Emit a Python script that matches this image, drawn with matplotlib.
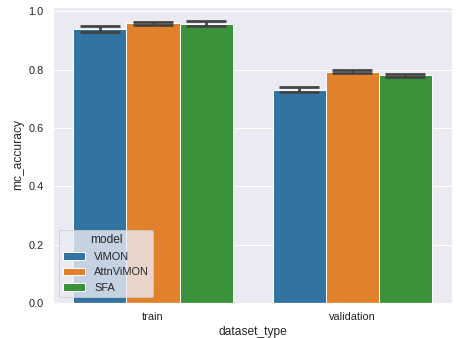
import matplotlib
matplotlib.use("Agg")
import matplotlib.pyplot as plt
import numpy as np
import pandas as pd
import seaborn as sns

# mittlere mc_accuracy je Modell und Datensatz, plus Konfidenzintervall
datasets = ["train", "validation"]
models = ["ViMON", "AttnViMON", "SFA"]
acc_mean = {
    "ViMON": [0.938, 0.729],
    "AttnViMON": [0.958, 0.792],
    "SFA": [0.955, 0.780],
}
acc_low = {
    "ViMON": [0.930, 0.723],
    "AttnViMON": [0.952, 0.788],
    "SFA": [0.948, 0.775],
}
acc_high = {
    "ViMON": [0.949, 0.741],
    "AttnViMON": [0.962, 0.797],
    "SFA": [0.967, 0.785],
}

rows = []
for m in models:
    for d, v in zip(datasets, acc_mean[m]):
        rows.append({"dataset_type": d, "model": m, "mc_accuracy": v})
df = pd.DataFrame(rows)

sns.set_theme(style="darkgrid", palette="tab10")
plt.rcParams["font.family"] = ["Liberation Sans", "DejaVu Sans"]

fig, ax = plt.subplots(figsize=(456 / 72, 338 / 72), dpi=72)
sns.barplot(data=df, x="dataset_type", y="mc_accuracy", hue="model",
            order=datasets, hue_order=models, errorbar=None,
            saturation=0.75, ax=ax)

# Fehlerbalken von Hand, Balken fuer Balken
cap = 0.1
for m, bars in zip(models, ax.containers):
    for bar, lo, hi in zip(bars, acc_low[m], acc_high[m]):
        xc = bar.get_x() + bar.get_width() / 2
        kw = dict(color=".26", lw=2.7, solid_capstyle="butt")
        ax.plot([xc, xc], [lo, hi], **kw)
        ax.plot([xc - cap, xc + cap], [lo, lo], **kw)
        ax.plot([xc - cap, xc + cap], [hi, hi], **kw)

ax.set_ylim(0, 1.014)
ax.set_xlim(-0.5, 1.5)
ax.legend(title="model", loc="lower left")

fig.subplots_adjust(left=0.117, right=0.991, bottom=0.104, top=0.979)
fig.savefig("out.png", dpi=72)
